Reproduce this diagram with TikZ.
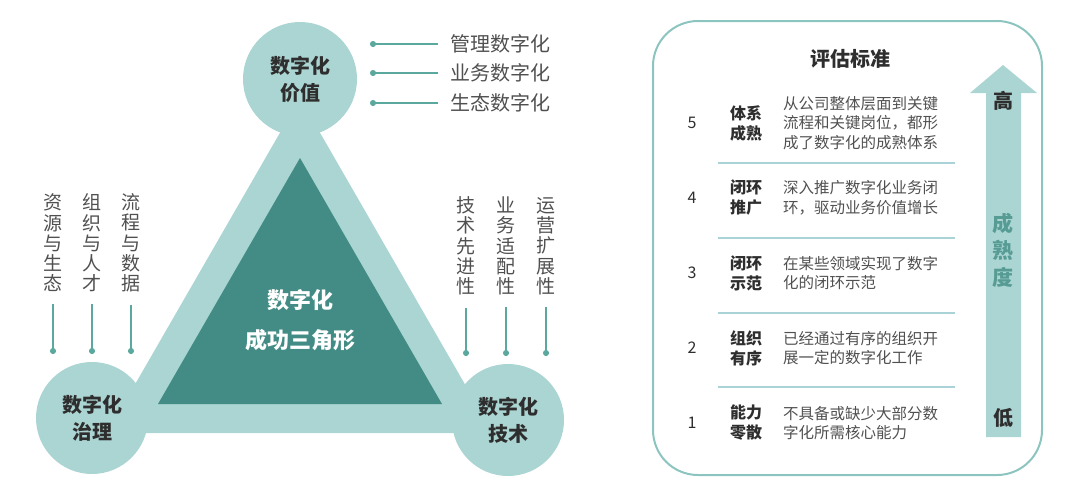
\documentclass[tikz,border=0pt]{standalone}
\usepackage{fontspec}
\setmainfont{Noto Sans CJK SC}
\usepackage{tikz}
\usetikzlibrary{positioning, arrows.meta, calc}

\definecolor{lightteal}{HTML}{ABD5D3}
\definecolor{darkteal}{HTML}{428C85}
\definecolor{linkteal}{HTML}{5AA89E}
\definecolor{frameteal}{HTML}{8CC5C0}
\definecolor{septeal}{HTML}{A9D3D6}
\definecolor{texgray}{HTML}{505050}
\definecolor{keygray}{HTML}{2E2E2E}

\begin{document}
\begin{tikzpicture}[
    x=1pt, y=-1pt,
    pillar/.style={
        circle,
        fill=lightteal,
        minimum size=112pt,
        inner sep=0pt,
        align=center,
        font=\fontsize{20}{27}\selectfont\bfseries,
        text=keygray
    },
    tag/.style={
        font=\fontsize{20}{24}\selectfont,
        text=texgray,
        inner sep=0pt
    },
    column/.style={
        font=\fontsize{19}{20.3}\selectfont,
        text=texgray,
        align=center,
        inner sep=0pt
    },
    link/.style={
        linkteal,
        line width=1.5pt,
        -{Circle[length=6pt]}
    },
    keyword/.style={
        font=\fontsize{16}{20}\selectfont\bfseries,
        text=keygray,
        align=center,
        inner sep=0pt
    },
    detail/.style={
        font=\fontsize{15.5}{19.5}\selectfont,
        text=texgray,
        align=left,
        anchor=west,
        inner sep=0pt
    }
]
\useasboundingbox (0,0) rectangle (1080,496);

% ===== 三角形(外层浅色 + 内层深色)=====
\fill[lightteal] (300,98) -- (107,433) -- (493,433) -- cycle;
\fill[darkteal] (300,158) -- (158,404) -- (442,404) -- cycle;
\node[align=center, text=white, font=\fontsize{22}{40}\selectfont\bfseries] (core) at (300,320) {数字化\\成功三角形};

% ===== 三个顶点圆 =====
\node[pillar, minimum size=114pt] (value) at (300,79) {数字化\\价值};
\node[pillar] (govern) at (92,418) {数字化\\治理};
\node[pillar] (tech) at (508,420) {数字化\\技术};

% ===== 价值:右侧三条标签 =====
\foreach \i/\ypos/\label in {mgmt/44/管理数字化, biz/73/业务数字化, eco/103/生态数字化} {
    \node[tag, anchor=west] (\i) at (450,\ypos) {\label};
    \coordinate (\i dot) at (370,\ypos);
    \draw[link, shorten <=12pt] (\i.west) -- (\i dot);
}

% ===== 治理:上方三列竖排文字 =====
\foreach \i/\xpos/\label in {res/53/{资\\源\\与\\生\\态}, org/92/{组\\织\\与\\人\\才}, flow/131/{流\\程\\与\\数\\据}} {
    \node[column] (\i) at (\xpos,243) {\label};
    \coordinate (\i dot) at (\xpos,354);
    \draw[link, shorten <=12pt] (\i.south) -- (\i dot);
}

% ===== 技术:上方三列竖排文字 =====
\foreach \i/\xpos/\label in {adv/466/{技\\术\\先\\进\\性}, fit/506/{业\\务\\适\\配\\性}, ops/546/{运\\营\\扩\\展\\性}} {
    \node[column] (\i) at (\xpos,246) {\label};
    \coordinate (\i dot) at (\xpos,356);
    \draw[link, shorten <=12pt] (\i.south) -- (\i dot);
}

% ===== 评估标准面板 =====
\draw[frameteal, line width=2pt, rounded corners=45pt] (653,21) rectangle (1042,475);
\node[font=\fontsize{20}{24}\selectfont\bfseries, text=keygray] (title) at (850,59) {评估标准};

\foreach \lvl/\ypos/\kw/\txt in {
    5/123/{体系\\成熟}/{从公司整体层面到关键\\流程和关键岗位，都形\\成了数字化的成熟体系},
    4/198/{闭环\\推广}/{深入推广数字化业务闭\\环，驱动业务价值增长},
    3/273/{闭环\\示范}/{在某些领域实现了数字\\化的闭环示范},
    2/348/{组织\\有序}/{已经通过有序的组织开\\展一定的数字化工作},
    1/423/{能力\\零散}/{不具备或缺少大部分数\\字化所需核心能力}%
}{
    \node[font=\fontsize{16}{20}\selectfont, text=keygray] (lv\lvl) at (692,\ypos) {\lvl};
    \node[keyword] (key\lvl) at (746,\ypos) {\kw};
    \node[detail] (desc\lvl) at (783,\ypos) {\txt};
}

% 分隔线
\foreach \ypos in {163,238,313,387} {
    \draw[septeal, line width=1.5pt] (718,\ypos) -- (955,\ypos);
}

% ===== 成熟度箭头 =====
\fill[lightteal] (986,437) -- (986,93) -- (970,93) -- (1003,65) -- (1037,93)
    -- (1021,93) -- (1021,437) -- cycle;
\node[font=\fontsize{20}{24}\selectfont\bfseries, text=keygray] (high) at (1003,101) {高};
\node[font=\fontsize{21}{27}\selectfont\bfseries, text=darkteal!80!lightteal, align=center] (degree) at (1003,250) {成\\熟\\度};
\node[font=\fontsize{20}{24}\selectfont\bfseries, text=keygray] (low) at (1003,418) {低};

\end{tikzpicture}
\end{document}
